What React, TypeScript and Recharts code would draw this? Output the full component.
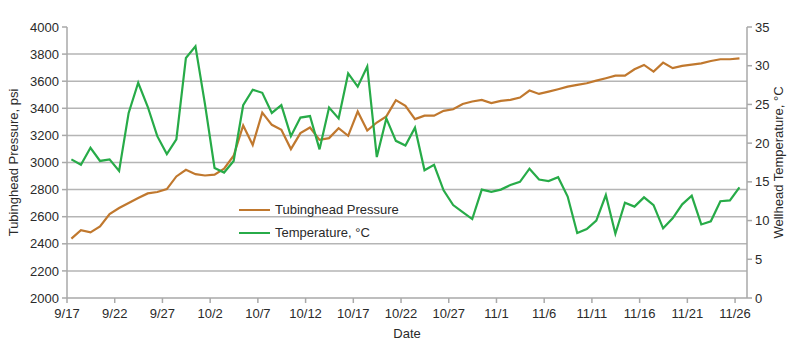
import React from 'react';
import { LineChart, Line, XAxis, YAxis, CartesianGrid, Legend } from 'recharts';

const dates = [
  '9/17','9/18','9/19','9/20','9/21','9/22','9/23','9/24','9/25','9/26','9/27','9/28','9/29','9/30',
  '10/1','10/2','10/3','10/4','10/5','10/6','10/7','10/8','10/9','10/10','10/11','10/12','10/13','10/14','10/15','10/16',
  '10/17','10/18','10/19','10/20','10/21','10/22','10/23','10/24','10/25','10/26','10/27','10/28','10/29','10/30','10/31',
  '11/1','11/2','11/3','11/4','11/5','11/6','11/7','11/8','11/9','11/10','11/11','11/12','11/13','11/14','11/15','11/16',
  '11/17','11/18','11/19','11/20','11/21','11/22','11/23','11/24','11/25','11/26',
];

const pressure = [
  2438, 2500, 2484, 2528, 2620, 2664, 2701, 2738, 2772, 2782, 2804, 2897, 2946, 2914,
  2904, 2911, 2955, 3050, 3273, 3130, 3368, 3278, 3241, 3099, 3217, 3258, 3167, 3180, 3253, 3197,
  3376, 3236, 3295, 3340, 3460, 3418, 3320, 3346, 3346, 3381, 3393, 3432, 3450, 3462, 3438,
  3455, 3462, 3479, 3531, 3506, 3523, 3541, 3560, 3573, 3585, 3604, 3622, 3641, 3641, 3688, 3720,
  3671, 3737, 3696, 3713, 3722, 3732, 3749, 3762, 3762, 3769,
];

const temperature = [
  17.9, 17.2, 19.4, 17.7, 17.9, 16.4, 23.9, 27.8, 24.7, 20.9, 18.6, 20.5, 31.0, 32.5,
  25.0, 16.8, 16.2, 17.7, 24.9, 26.9, 26.5, 23.9, 24.9, 20.9, 23.3, 23.5, 19.2, 24.6, 23.2, 29.0,
  27.3, 29.9, 18.2, 23.2, 20.3, 19.7, 22.0, 16.5, 17.2, 13.9, 12.0, 11.1, 10.2, 14.0, 13.7,
  14.0, 14.6, 15.0, 16.7, 15.3, 15.1, 15.6, 13.1, 8.4, 8.9, 10.0, 13.3, 8.3, 12.3, 11.8, 13.0,
  12.0, 9.0, 10.3, 12.1, 13.2, 9.5, 9.9, 12.5, 12.6, 14.3,
];

const xTickLabels = ['9/17','9/22','9/27','10/2','10/7','10/12','10/17','10/22','10/27','11/1','11/6','11/11','11/16','11/21','11/26'];
const xTicks = [0, 5, 10, 15, 20, 25, 30, 35, 40, 45, 50, 55, 60, 65, 70];
const pressureTicks = [2000, 2200, 2400, 2600, 2800, 3000, 3200, 3400, 3600, 3800, 4000];
const gridValues = [2200, 2400, 2600, 2800, 3000, 3200, 3400, 3600, 3800];
const tempTicks = [0, 5, 10, 15, 20, 25, 30, 35];

const PRESSURE_COLOR = '#c0782e';
const TEMP_COLOR = '#27ab48';
const AXIS_COLOR = '#a9a9a9';
const TEXT_COLOR = '#2a2a2a';
const FONT = '"Liberation Sans", Arial, Helvetica, sans-serif';

// points sit half a day right of the date tick (between-tick placement)
const data = dates.map((d, i) => ({ x: i + 0.46, date: d, pressure: pressure[i], temperature: temperature[i] }));

const tickStyle = { fill: TEXT_COLOR, fontSize: 13, fontFamily: FONT };

const LegendBox = () => (
  <div style={{ fontFamily: FONT, fontSize: 13, color: TEXT_COLOR, textAlign: 'left' }}>
    {[
      { name: 'Tubinghead Pressure', color: PRESSURE_COLOR },
      { name: 'Temperature, °C', color: TEMP_COLOR },
    ].map((it) => (
      <div key={it.name} style={{ display: 'flex', alignItems: 'center', height: 23 }}>
        <span style={{ display: 'inline-block', width: 31, height: 0, borderTop: `2.5px solid ${it.color}`, marginRight: 5 }} />
        <span>{it.name}</span>
      </div>
    ))}
  </div>
);

export default function App() {
  return (
    <div style={{ position: 'absolute', left: 0, top: 0, width: 800, height: 352, background: '#fff' }}>
      <LineChart width={800} height={352} data={data} margin={{ top: 27, right: 0, bottom: 0, left: 0 }}>
        <CartesianGrid yAxisId="p" vertical={false} horizontalValues={gridValues} stroke="#b5b5b5" strokeWidth={1.5} />
        <XAxis
          dataKey="x"
          type="number"
          domain={[0, 71.25]}
          ticks={xTicks}
          tickFormatter={(v: number) => xTickLabels[Math.round(v / 5)]}
          height={54}
          tick={tickStyle}
          tickSize={5}
          tickMargin={6}
          stroke={AXIS_COLOR}
          strokeWidth={1.5}
          allowDataOverflow
          label={{
            content: (props: any) => {
              const vb = props.viewBox;
              return (
                <text x={vb.x + vb.width / 2} y={vb.y + 40} textAnchor="middle" fill={TEXT_COLOR} fontSize={13} fontFamily={FONT}>
                  Date
                </text>
              );
            },
          }}
        />
        <YAxis
          yAxisId="p"
          domain={[2000, 4000]}
          ticks={pressureTicks}
          width={67}
          tick={tickStyle}
          tickSize={5}
          tickMargin={3}
          stroke={AXIS_COLOR}
          strokeWidth={1.5}
          label={{
            content: (props: any) => {
              const vb = props.viewBox;
              const cy = vb.y + vb.height / 2;
              return (
                <text x={18} y={cy} transform={`rotate(-90 18 ${cy})`} textAnchor="middle" fill={TEXT_COLOR} fontSize={13} fontFamily={FONT}>
                  Tubinghead Pressure, psi
                </text>
              );
            },
          }}
        />
        <YAxis
          yAxisId="t"
          orientation="right"
          domain={[0, 35]}
          ticks={tempTicks}
          width={53}
          tick={tickStyle}
          tickSize={5}
          tickMargin={3}
          stroke={AXIS_COLOR}
          strokeWidth={1.5}
          label={{
            content: (props: any) => {
              const vb = props.viewBox;
              const cy = vb.y + vb.height / 2;
              const cx = vb.x + 36;
              return (
                <text x={cx} y={cy} transform={`rotate(-90 ${cx} ${cy})`} textAnchor="middle" fill={TEXT_COLOR} fontSize={13} fontFamily={FONT}>
                  Wellhead Temperature, °C
                </text>
              );
            },
          }}
        />
        <Legend
          content={<LegendBox />}
          layout="horizontal"
          verticalAlign="middle"
          align="center"
          wrapperStyle={{ position: 'absolute', left: 239, top: 198, width: 200, height: 46 }}
        />
        <Line yAxisId="p" dataKey="pressure" name="Tubinghead Pressure" stroke={PRESSURE_COLOR} strokeWidth={2.2} dot={false} isAnimationActive={false} />
        <Line yAxisId="t" dataKey="temperature" name="Temperature, °C" stroke={TEMP_COLOR} strokeWidth={2.2} dot={false} isAnimationActive={false} />
      </LineChart>
    </div>
  );
}
